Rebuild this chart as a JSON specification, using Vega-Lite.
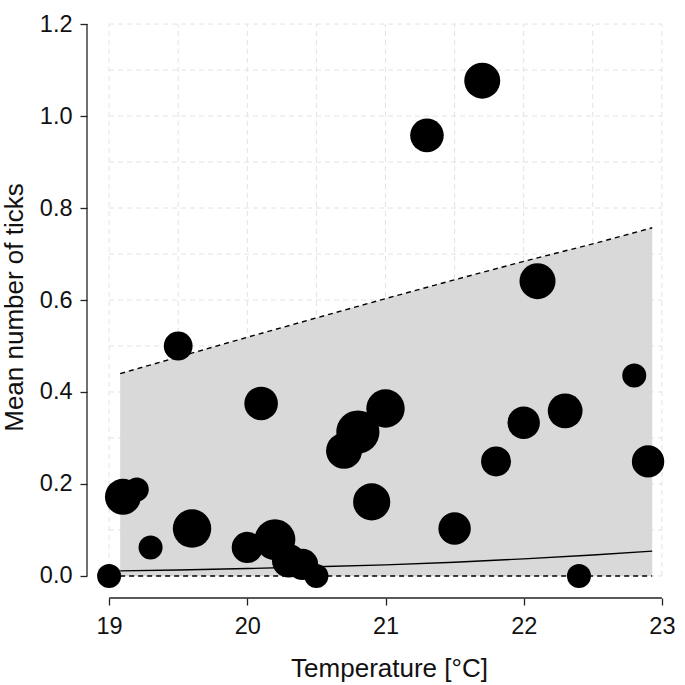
{
  "$schema": "https://vega.github.io/schema/vega-lite/v6.json",
  "width": 597,
  "height": 596,
  "autosize": {"type": "none"},
  "padding": {"left": 87, "top": 2, "right": 1, "bottom": 87},
  "background": "white",
  "config": {
    "view": {"stroke": null},
    "font": "Liberation Sans",
    "axis": {
      "grid": false,
      "domain": false,
      "tickColor": "#222222",
      "tickSize": 7,
      "tickWidth": 1.3,
      "labelFont": "Liberation Sans",
      "labelFontSize": 23.5,
      "labelColor": "#111111",
      "titleFont": "Liberation Sans",
      "titleFontSize": 26,
      "titleFontWeight": "normal",
      "titleColor": "#111111"
    }
  },
  "datasets": {
    "pts": [
      {"temp": 19.0, "mean": 0.0, "n": 10},
      {"temp": 19.1, "mean": 0.172, "n": 15},
      {"temp": 19.2, "mean": 0.188, "n": 10},
      {"temp": 19.3, "mean": 0.062, "n": 10},
      {"temp": 19.5, "mean": 0.5, "n": 12},
      {"temp": 19.6, "mean": 0.103, "n": 16},
      {"temp": 20.0, "mean": 0.062, "n": 13},
      {"temp": 20.1, "mean": 0.375, "n": 14},
      {"temp": 20.2, "mean": 0.079, "n": 17},
      {"temp": 20.3, "mean": 0.033, "n": 14},
      {"temp": 20.4, "mean": 0.025, "n": 13},
      {"temp": 20.5, "mean": 0.0, "n": 10},
      {"temp": 20.7, "mean": 0.272, "n": 15},
      {"temp": 20.8, "mean": 0.313, "n": 18},
      {"temp": 20.9, "mean": 0.161, "n": 15.5},
      {"temp": 21.0, "mean": 0.364, "n": 16},
      {"temp": 21.3, "mean": 0.958, "n": 14},
      {"temp": 21.5, "mean": 0.103, "n": 13.5},
      {"temp": 21.7, "mean": 1.077, "n": 15},
      {"temp": 21.8, "mean": 0.249, "n": 12.5},
      {"temp": 22.0, "mean": 0.333, "n": 13.5},
      {"temp": 22.1, "mean": 0.641, "n": 15},
      {"temp": 22.3, "mean": 0.359, "n": 14.5},
      {"temp": 22.4, "mean": 0.0, "n": 10},
      {"temp": 22.8, "mean": 0.436, "n": 10},
      {"temp": 22.9, "mean": 0.249, "n": 13.5}
    ],
    "band": [
      {"temp": 19.08, "lower": 0, "upper": 0.44, "fit": 0.011},
      {"temp": 19.5, "lower": 0, "upper": 0.476, "fit": 0.013},
      {"temp": 20.0, "lower": 0, "upper": 0.519, "fit": 0.016},
      {"temp": 20.5, "lower": 0, "upper": 0.561, "fit": 0.0198},
      {"temp": 21.0, "lower": 0, "upper": 0.603, "fit": 0.024},
      {"temp": 21.5, "lower": 0, "upper": 0.644, "fit": 0.0298},
      {"temp": 22.0, "lower": 0, "upper": 0.684, "fit": 0.037},
      {"temp": 22.5, "lower": 0, "upper": 0.722, "fit": 0.0455},
      {"temp": 22.93, "lower": 0, "upper": 0.757, "fit": 0.054}
    ],
    "vgrid": [
      {"gx": 19}, {"gx": 19.5}, {"gx": 20}, {"gx": 20.5}, {"gx": 21},
      {"gx": 21.5}, {"gx": 22}, {"gx": 22.5}, {"gx": 23}
    ],
    "hgrid": [
      {"gy": 0}, {"gy": 0.1}, {"gy": 0.2}, {"gy": 0.3}, {"gy": 0.4}, {"gy": 0.5}, {"gy": 0.6},
      {"gy": 0.7}, {"gy": 0.8}, {"gy": 0.9}, {"gy": 1.0}, {"gy": 1.1}, {"gy": 1.2}
    ]
  },
  "layer": [
    {
      "data": {"name": "vgrid"},
      "mark": {"type": "rule", "color": "#e2e2e2", "strokeWidth": 1, "strokeDash": [5, 4]},
      "encoding": {
        "x": {"field": "gx", "type": "quantitative", "scale": {"domain": [18.84, 23.16], "nice": false, "zero": false},
          "axis": {"values": [19, 20, 21, 22, 23], "format": "d", "title": "Temperature [°C]", "labelPadding": 9, "titleX": 302, "titleAlign": "center", "titleY": 78, "titleBaseline": "alphabetic"}},
        "y": {"datum": 0, "type": "quantitative", "scale": {"domain": [-0.048, 1.248], "nice": false, "zero": false},
          "axis": {"values": [0, 0.2, 0.4, 0.6, 0.8, 1.0, 1.2], "format": ".1f", "title": "Mean number of ticks", "labelPadding": 8, "titleX": -73, "titleY": 305, "titleBaseline": "middle", "titleAngle": 270}},
        "y2": {"datum": 1.2}
      }
    },
    {
      "data": {"name": "hgrid"},
      "mark": {"type": "rule", "color": "#e2e2e2", "strokeWidth": 1, "strokeDash": [5, 4]},
      "encoding": {
        "y": {"field": "gy", "type": "quantitative"},
        "x": {"datum": 19, "type": "quantitative"},
        "x2": {"datum": 23}
      }
    },
    {
      "data": {"name": "band"},
      "mark": {"type": "area", "color": "#d9d9d9", "opacity": 1},
      "encoding": {
        "x": {"field": "temp", "type": "quantitative"},
        "y": {"field": "lower", "type": "quantitative"},
        "y2": {"field": "upper"}
      }
    },
    {
      "data": {"name": "band"},
      "mark": {"type": "line", "color": "black", "strokeWidth": 1.4, "strokeDash": [5, 4]},
      "encoding": {
        "x": {"field": "temp", "type": "quantitative"},
        "y": {"field": "lower", "type": "quantitative"}
      }
    },
    {
      "data": {"name": "band"},
      "mark": {"type": "line", "color": "black", "strokeWidth": 1.4, "strokeDash": [5, 4]},
      "encoding": {
        "x": {"field": "temp", "type": "quantitative"},
        "y": {"field": "upper", "type": "quantitative"}
      }
    },
    {
      "data": {"name": "band"},
      "mark": {"type": "line", "color": "black", "strokeWidth": 1.4},
      "encoding": {
        "x": {"field": "temp", "type": "quantitative"},
        "y": {"field": "fit", "type": "quantitative"}
      }
    },
    {
      "data": {"name": "pts"},
      "mark": {"type": "circle", "color": "black", "opacity": 1},
      "encoding": {
        "x": {"field": "temp", "type": "quantitative"},
        "y": {"field": "mean", "type": "quantitative"},
        "size": {"field": "n", "type": "quantitative", "scale": {"type": "pow", "exponent": 2, "domain": [0, 20], "range": [0, 2304]}, "legend": null}
      }
    },
    {
      "data": {"values": [{}]},
      "mark": {"type": "rule", "color": "#222222", "strokeWidth": 1.3},
      "encoding": {
        "x": {"datum": 18.84, "type": "quantitative"},
        "y": {"datum": 0, "type": "quantitative"},
        "y2": {"datum": 1.2}
      }
    },
    {
      "data": {"values": [{}]},
      "mark": {"type": "rule", "color": "#222222", "strokeWidth": 1.3},
      "encoding": {
        "y": {"datum": -0.048, "type": "quantitative"},
        "x": {"datum": 19, "type": "quantitative"},
        "x2": {"datum": 23}
      }
    }
  ]
}
